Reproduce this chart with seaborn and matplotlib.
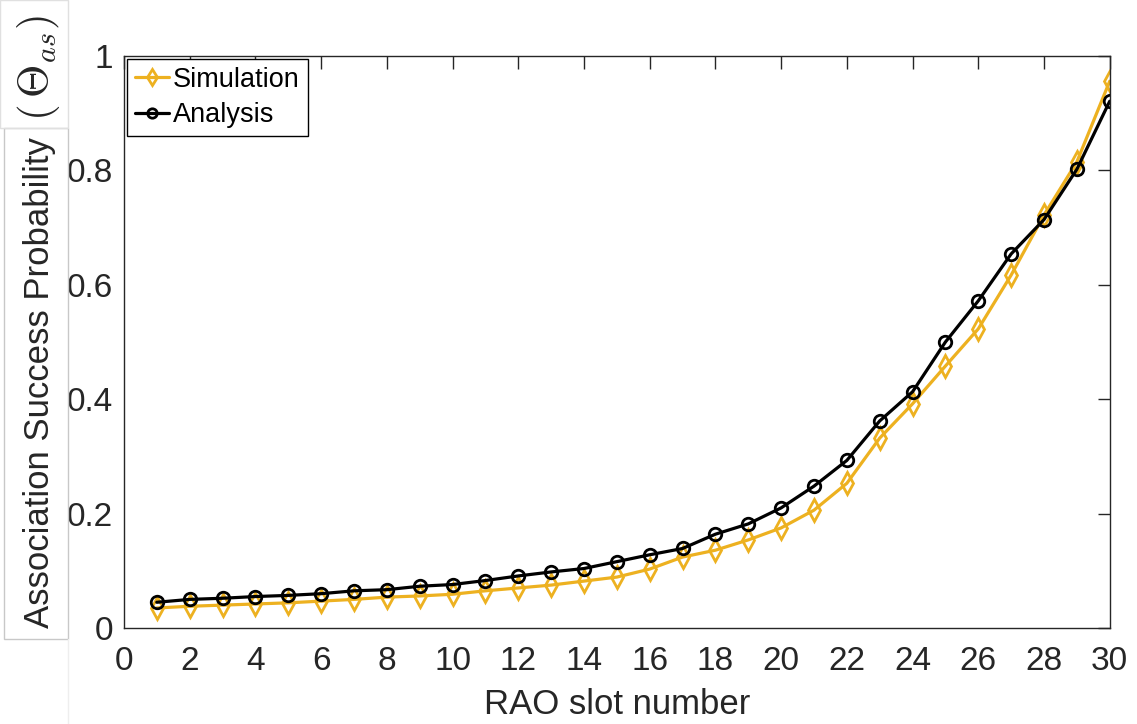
import matplotlib
matplotlib.use("Agg")
import matplotlib.pyplot as plt
from matplotlib.patches import Rectangle
import seaborn as sns
import pandas as pd

# RAO slot index and association success probabilities
slots = list(range(1, 31))
simulation = [0.035, 0.038, 0.040, 0.042, 0.044, 0.047, 0.050, 0.054, 0.056, 0.059,
              0.065, 0.070, 0.075, 0.082, 0.089, 0.103, 0.124, 0.136, 0.154, 0.175,
              0.206, 0.253, 0.332, 0.392, 0.458, 0.523, 0.617, 0.722, 0.815, 0.956]
analysis = [0.045, 0.050, 0.052, 0.055, 0.057, 0.060, 0.065, 0.067, 0.073, 0.076,
            0.083, 0.091, 0.098, 0.104, 0.116, 0.128, 0.139, 0.164, 0.182, 0.210,
            0.248, 0.293, 0.362, 0.413, 0.500, 0.572, 0.654, 0.714, 0.802, 0.921]
x_ticks = list(range(0, 31, 2))
y_ticks = [0, 0.2, 0.4, 0.6, 0.8, 1]
y_tick_labels = ["0", "0.2", "0.4", "0.6", "0.8", "1"]

sns.set_theme(style="white")
plt.rcParams["font.family"] = ["Liberation Sans", "DejaVu Sans"]
plt.rcParams["mathtext.fontset"] = "cm"

axis_grey = "#262626"
gold = "#EDB120"

df = pd.DataFrame({"slot": slots, "sim": simulation, "ana": analysis})

fig = plt.figure(figsize=(11.37, 7.24), dpi=100)
ax = fig.add_axes([0.109, 0.1326, 0.867, 0.790])

sns.lineplot(data=df, x="slot", y="sim", ax=ax, color=gold, linewidth=2.3,
             marker="d", markersize=11, markerfacecolor="none",
             markeredgecolor=gold, markeredgewidth=2.0, label="Simulation")
sns.lineplot(data=df, x="slot", y="ana", ax=ax, color="black", linewidth=2.3,
             marker="o", markersize=9, markerfacecolor="none",
             markeredgecolor="black", markeredgewidth=2.0, label="Analysis")

ax.set_xlim(0, 30)
ax.set_ylim(0, 1)
ax.set_xticks(x_ticks)
ax.set_yticks(y_ticks)
ax.set_yticklabels(y_tick_labels)
ax.tick_params(axis="both", direction="in", length=9, width=1.0, colors=axis_grey,
               labelsize=24, top=True, right=True, pad=8)
ax.tick_params(axis="x", pad=13)
for side in ax.spines.values():
    side.set_visible(True)
    side.set_color(axis_grey)
    side.set_linewidth(1.0)

ax.set_xlabel("RAO slot number", fontsize=25, color=axis_grey, labelpad=8)
ax.set_ylabel("")

leg = ax.legend(loc="upper left", fontsize=19.5, frameon=True, fancybox=False,
                edgecolor="black", framealpha=1, borderaxespad=0.1,
                handlelength=1.25, handletextpad=0.15, borderpad=0.3,
                labelspacing=0.35, markerscale=0.75)
leg.get_frame().set_linewidth(1.0)
for t in leg.get_texts():
    t.set_color("black")

# y-axis title in two framed pieces
W, H = fig.get_size_inches() * fig.dpi
fig.patches.append(Rectangle((4 / W, 1 - 639 / H), 64 / W, 511 / H,
                             transform=fig.transFigure, fill=False,
                             edgecolor="#c8c8c8", linewidth=1.0))
fig.patches.append(Rectangle((0 / W, 1 - 128 / H), 68 / W, 128 / H,
                             transform=fig.transFigure, fill=False,
                             edgecolor="#e0e0e0", linewidth=1.0))
fig.lines.append(plt.Line2D([68 / W, 68 / W], [0, 1 - 639 / H],
                            transform=fig.transFigure, color="#eeeeee", linewidth=1.0))
fig.text(40 / W, 1 - 383 / H, "Association Success Probability", rotation=90,
         ha="center", va="center", fontsize=25, color=axis_grey)
fig.text(38 / W, 1 - 68 / H, r"$(\,\Theta_{as})$", rotation=90,
         ha="center", va="center", fontsize=31, color=axis_grey)

fig.savefig("out.png", dpi=100, facecolor="white")
